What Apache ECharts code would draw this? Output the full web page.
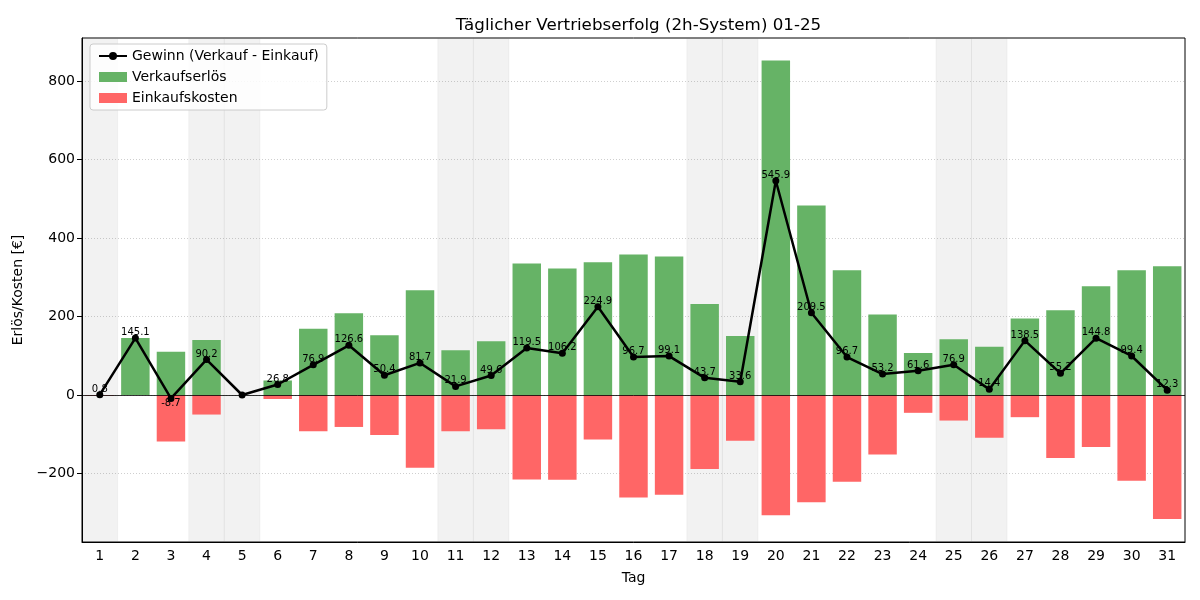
<!DOCTYPE html>
<html>
<head>
<meta charset="utf-8">
<script src="https://cdn.jsdelivr.net/npm/echarts@6/dist/echarts.min.js"></script>
<style>html,body{margin:0;padding:0;background:#fff}#c{width:1200px;height:600px}</style>
</head>
<body>
<div id="c"></div>
<script>
const days = ['1','2','3','4','5','6','7','8','9','10','11','12','13','14','15','16','17','18','19','20','21','22','23','24','25','26','27','28','29','30','31'];
const revenue = [0, 145, 110, 140, 0, 37, 169, 208, 152, 267, 114, 137, 335, 322, 338, 358, 353, 232, 150, 852, 483, 318, 205, 107, 142, 123, 195, 216, 277, 318, 328];
const costs = [-1.5, 0, -118.7, -49.8, 0, -10.2, -92.1, -81.4, -101.6, -185.3, -92.1, -87.4, -215.5, -215.8, -113.1, -261.3, -253.9, -188.3, -116.4, -306.1, -273.5, -221.3, -151.8, -45.4, -65.1, -108.6, -56.5, -160.8, -132.2, -218.6, -315.7];
const profit = [0.8, 145.1, -8.7, 90.2, 0, 26.8, 76.9, 126.6, 50.4, 81.7, 21.9, 49.6, 119.5, 106.2, 224.9, 96.7, 99.1, 43.7, 33.6, 545.9, 209.5, 96.7, 53.2, 61.6, 76.9, 14.4, 138.5, 55.2, 144.8, 99.4, 12.3];
const weekendDays = ['1','4','5','11','12','18','19','25','26'];
const yTicks = [-200, 0, 200, 400, 600, 800];

const FONT = 'DejaVu Sans';
const profitData = profit.map(v => v < 0 ? {value: v, label: {position: 'bottom', distance: -4}} : v);

const chart = echarts.init(document.getElementById('c'));
chart.setOption({
  animation: false,
  textStyle: {fontFamily: FONT, color: '#000'},
  title: {
    text: 'Täglicher Vertriebserfolg (2h-System) 01-25',
    left: 633.5, top: 12, textAlign: 'center',
    textStyle: {fontFamily: FONT, fontSize: 16.7, fontWeight: 'normal', color: '#000'}
  },
  legend: {
    left: 90, top: 44, orient: 'vertical',
    itemWidth: 28, itemHeight: 10, itemGap: 7,
    padding: [5, 8, 5, 8],
    borderColor: '#cccccc', borderWidth: 1, borderRadius: 3,
    backgroundColor: 'rgba(255,255,255,0.85)',
    textStyle: {fontFamily: FONT, fontSize: 14, color: '#000'},
    data: [
      {name: 'Gewinn (Verkauf - Einkauf)'},
      {name: 'Verkaufserlös', icon: 'rect'},
      {name: 'Einkaufskosten', icon: 'rect'}
    ]
  },
  grid: {left: 82, right: 15, top: 38, bottom: 58, show: true, borderColor: '#000', borderWidth: 1, backgroundColor: 'transparent'},
  xAxis: {
    type: 'category', data: days, boundaryGap: true,
    name: 'Tag', nameLocation: 'middle', nameGap: 29,
    nameTextStyle: {fontFamily: FONT, fontSize: 14, color: '#000'},
    axisLine: {onZero: false, lineStyle: {color: '#000'}},
    axisTick: {alignWithLabel: true, length: 5, lineStyle: {color: '#000'}},
    axisLabel: {fontFamily: FONT, fontSize: 14, color: '#000', margin: 7, interval: 0},
    splitLine: {show: false}
  },
  yAxis: {
    type: 'value', min: -374.5, max: 909.5,
    name: 'Erlös/Kosten [€]', nameLocation: 'middle', nameGap: 53,
    nameTextStyle: {fontFamily: FONT, fontSize: 14, color: '#000'},
    axisLine: {show: true, lineStyle: {color: '#000'}},
    axisTick: {show: true, length: 5, lineStyle: {color: '#000'}, customValues: yTicks},
    axisLabel: {fontFamily: FONT, fontSize: 14, color: '#000', margin: 7, customValues: yTicks,
      formatter: v => (v < 0 ? '\u2212' + Math.abs(v) : String(v))},
    splitLine: {show: true, lineStyle: {color: '#cfcfcf', type: [1, 2], width: 1}}
  },
  series: [
    {
      name: 'weekend', type: 'custom', z: 0, silent: true,
      data: weekendDays.map(d => [d]),
      renderItem: function (params, api) {
        const p = api.coord([api.value(0), 0]);
        const w = api.size([1, 0])[0];
        const cs = params.coordSys;
        return {type: 'rect', shape: {x: p[0] - w / 2, y: cs.y, width: w, height: cs.height},
          style: {fill: 'rgba(128,128,128,0.1)', stroke: 'rgba(128,128,128,0.07)', lineWidth: 1}};
      },
      encode: {x: 0}
    },
    {
      name: 'Verkaufserlös', type: 'bar', stack: 's', data: revenue, barWidth: '80%', z: 2,
      itemStyle: {color: '#66b366'},
      markLine: {silent: true, symbol: 'none', label: {show: false},
        lineStyle: {color: '#000', width: 0.8, type: 'solid'}, data: [{yAxis: 0}]}
    },
    {
      name: 'Einkaufskosten', type: 'bar', stack: 's', data: costs, barWidth: '80%', z: 2,
      itemStyle: {color: '#ff6666'}
    },
    {
      name: 'Gewinn (Verkauf - Einkauf)', type: 'line', data: profitData, z: 5,
      symbol: 'circle', symbolSize: 7,
      lineStyle: {color: '#000', width: 2.5},
      itemStyle: {color: '#000'},
      label: {show: true, position: 'top', distance: -3, fontFamily: FONT, fontSize: 10, color: '#000',
        formatter: p => (p.value === 0 ? '' : p.value.toFixed(1))}
    }
  ]
});
</script>
</body>
</html>
